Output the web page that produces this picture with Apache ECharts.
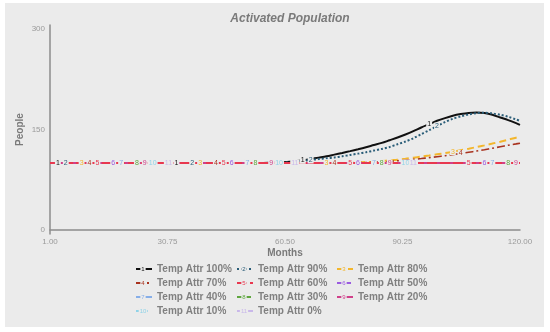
<!DOCTYPE html>
<html>
<head>
<meta charset="utf-8">
<script src="https://cdn.jsdelivr.net/npm/echarts@6/dist/echarts.min.js"></script>
<style>html,body{margin:0;padding:0;background:#fff}#c{width:550px;height:332px}</style>
</head>
<body>
<div id="c"></div>
<script>
// ---------- DATA ----------
const months = [1,3,5,7,9,11,13,15,17,19,21,23,25,27,29,31,33,35,37,39,41,43,45,47,49,51,53,
  55,57,59,61,63,65,67,69,71,73,75,77,79,81,83,85,87,89,91,93,95,97,99,101,103,105,107,109,111,113,115,117,119,120];

const seriesNames = ['Temp Attr 100%','Temp Attr 90%','Temp Attr 80%','Temp Attr 70%','Temp Attr 60%',
  'Temp Attr 50%','Temp Attr 40%','Temp Attr 30%','Temp Attr 20%','Temp Attr 10%','Temp Attr 0%'];

const attr100 = [100,100,100,100,100,100,100,100,100,100,100,100,100,100,100,100,100,100,100,100,100,100,100,100,100,100,100,
  100,100.3,100.7,101.5,102.7,104,106,108,110,112.5,115,117.7,120.5,123.5,126.8,130,134,138,142.5,147.5,153,158,163,167,170.5,173,174.8,175.5,174.5,172,168,164,159.5,157];
const attr90 = [100,100,100,100,100,100,100,100,100,100,100,100,100,100,100,100,100,100,100,100,100,100,100,100,100,100,100,
  100,100.1,100.3,100.8,101.8,103,104.5,105.8,107,108.3,110,112,114,116,118.5,121,124,128,132,137,143,149,155,161,166,169.5,172.5,174.5,175,174,172,169,165,163];
const attr80 = [100,100,100,100,100,100,100,100,100,100,100,100,100,100,100,100,100,100,100,100,100,100,100,100,100,100,100,100,100,100,100,100,100,100,100,100,
  100,100,100.3,100.8,101.4,102,103,104,105,106.3,107.8,109.5,111.2,113,114.8,116.8,119,121.3,123.8,126.3,129,131.8,134.8,137.8,139];
const attr70 = [100,100,100,100,100,100,100,100,100,100,100,100,100,100,100,100,100,100,100,100,100,100,100,100,100,100,100,100,100,100,100,100,100,100,100,100,100,
  100,100.2,100.4,100.7,101.2,101.8,102.6,103.4,104.3,105.4,106.6,108,109.4,110.8,112.5,114.2,116,117.8,119.8,122,124.3,126.5,128.5,129.5];
const flat100 = [100,100,100,100,100,100,100,100,100,100,100,100,100,100,100,100,100,100,100,100,100,100,100,100,100,100,100,
  100,100,100,100,100,100,100,100,100,100,100,100,100,100,100,100,100,100,100,100,100,100,100,100,100,100,100,100,100,100,100,100,100,100];
const attr60 = flat100, attr50 = flat100, attr40 = flat100, attr30 = flat100, attr20 = flat100, attr10 = flat100, attr0 = flat100;
const seriesValues = [attr100, attr90, attr80, attr70, attr60, attr50, attr40, attr30, attr20, attr10, attr0];

const yTicks = [0, 150, 300];
const xTicks = [1, 30.75, 60.5, 90.25, 120];

// ---------- STYLE ----------
const FONT = 'Arial, Liberation Sans, sans-serif';
const BG = '#ebebeb';
const styles = [
  {color:'#111111', type:'solid', width:2},
  {color:'#2a5d78', type:[2,2], width:2},
  {color:'#f3b62c', type:[7,4], width:2},
  {color:'#a8321e', type:[8,3,2,3], width:1.6},
  {color:'#e8384f', type:[10,3], width:2},
  {color:'#9a5be0', type:[5,4], width:1.5},
  {color:'#86aee8', type:'solid', width:1.5},
  {color:'#5fa63f', type:[5,4], width:1.5},
  {color:'#d0408a', type:'solid', width:2},
  {color:'#8fd3e8', type:[4,4], width:1.5},
  {color:'#c9b8ea', type:'solid', width:1.5}
];
const zOrder = [3,3,3,3,6,2,2,2,5,2,2];
const labelStart = 2.3, labelStep = 2.855;
const nS = seriesNames.length;

function nearestIndex(m){
  let best = 0, d = Infinity;
  months.forEach((x,i)=>{ const dd = Math.abs(x-m); if(dd<d){d=dd;best=i;} });
  return best;
}

const series = [];
seriesNames.forEach((name,k)=>{
  const st = styles[k];
  series.push({
    name, type:'line', data: months.map((m,i)=>[m, seriesValues[k][i]]),
    smooth:0.3, symbol:'none', color: st.color,
    lineStyle:{color:st.color, type:st.type, width:st.width},
    z: zOrder[k], animation:false, silent:true
  });
});
// number markers drawn on top of the lines
seriesNames.forEach((name,k)=>{
  const st = styles[k];
  const labelIdx = new Set();
  for(let n=0;;n++){
    const m = labelStart + (k + nS*n)*labelStep;
    if(m>120) break;
    labelIdx.add(nearestIndex(m));
  }
  const data = months.map((m,i)=>{
    const v = seriesValues[k][i];
    if(labelIdx.has(i)) return {value:[m,v], symbol:'circle', symbolSize:1, label:{show:true}};
    return [m,v];
  });
  series.push({
    name, type:'line', data, smooth:0.3, symbol:'none', color: st.color,
    lineStyle:{opacity:0, width:0},
    itemStyle:{color:st.color},
    label:{show:false, position:'inside', formatter:String(k+1), fontSize:7, color:st.color,
      fontFamily:FONT, backgroundColor:BG, padding:[0,1]},
    z: 10, animation:false, silent:true
  });
});

const legendCols = [[0,3,6,9],[1,4,7,10],[2,5,8]];
const legendLeft = [135, 236, 336];
const legendTop = 263, legendItemW = 16, legendItemH = 12, legendGap = 2;
const legends = legendCols.map((col,c)=>({
  data: col.map(i=>seriesNames[i]),
  orient:'vertical', left: legendLeft[c], top: legendTop, padding:0,
  itemWidth:legendItemW, itemHeight:legendItemH, itemGap:legendGap,
  itemStyle:{opacity:0},
  textStyle:{color:'#808080', fontWeight:'bold', fontSize:10, lineHeight:12, fontFamily:FONT},
  selectedMode:false
}));
// series numbers in the middle of the legend line icons
const legendNums = [];
legendCols.forEach((col,c)=>col.forEach((i,r)=>{
  legendNums.push({type:'text', silent:true, z:100,
    x: legendLeft[c] + legendItemW/2, y: legendTop + r*(legendItemH+legendGap) + legendItemH/2,
    style:{text:String(i+1), fill:styles[i].color, font:'6px '+FONT, align:'center', verticalAlign:'middle',
      backgroundColor:BG, padding:[0,1]}});
}));

const chart = echarts.init(document.getElementById('c'));
chart.setOption({
  backgroundColor:'#ffffff',
  animation:false,
  graphic:[{type:'rect', shape:{x:5,y:3,width:539,height:324}, style:{fill:BG}, z:-10, silent:true}].concat(legendNums),
  title:{text:'Activated Population', left:285, top:8, textAlign:'center',
    textStyle:{color:'#7a7a7a', fontStyle:'italic', fontWeight:'bold', fontSize:12, fontFamily:FONT}},
  grid:{left:50, right:30, top:25, bottom:98, containLabel:false},
  xAxis:{type:'value', min:1, max:120,
    name:'Months', nameLocation:'middle', nameGap:14, nameMoveOverlap:false,
    nameTextStyle:{color:'#7a7a7a', fontWeight:'bold', fontSize:10, fontFamily:FONT},
    axisLine:{show:true, lineStyle:{color:'#8c8c8c', width:1.5}},
    axisTick:{show:false},
    splitLine:{show:false},
    axisLabel:{customValues:xTicks, formatter:v=>v.toFixed(2), color:'#9a9a9a', fontSize:8, margin:4, fontFamily:FONT}
  },
  yAxis:{type:'value', min:-6, max:306,
    name:'People', nameLocation:'middle', nameGap:25, nameRotate:90, nameMoveOverlap:false,
    nameTextStyle:{color:'#7a7a7a', fontWeight:'bold', fontSize:10, fontFamily:FONT},
    axisLine:{show:true, lineStyle:{color:'#8c8c8c', width:1.5}},
    axisTick:{show:false},
    splitLine:{show:false},
    axisLabel:{customValues:yTicks, color:'#9a9a9a', fontSize:8, margin:5, fontFamily:FONT}
  },
  legend: legends,
  series
});
</script>
</body>
</html>
